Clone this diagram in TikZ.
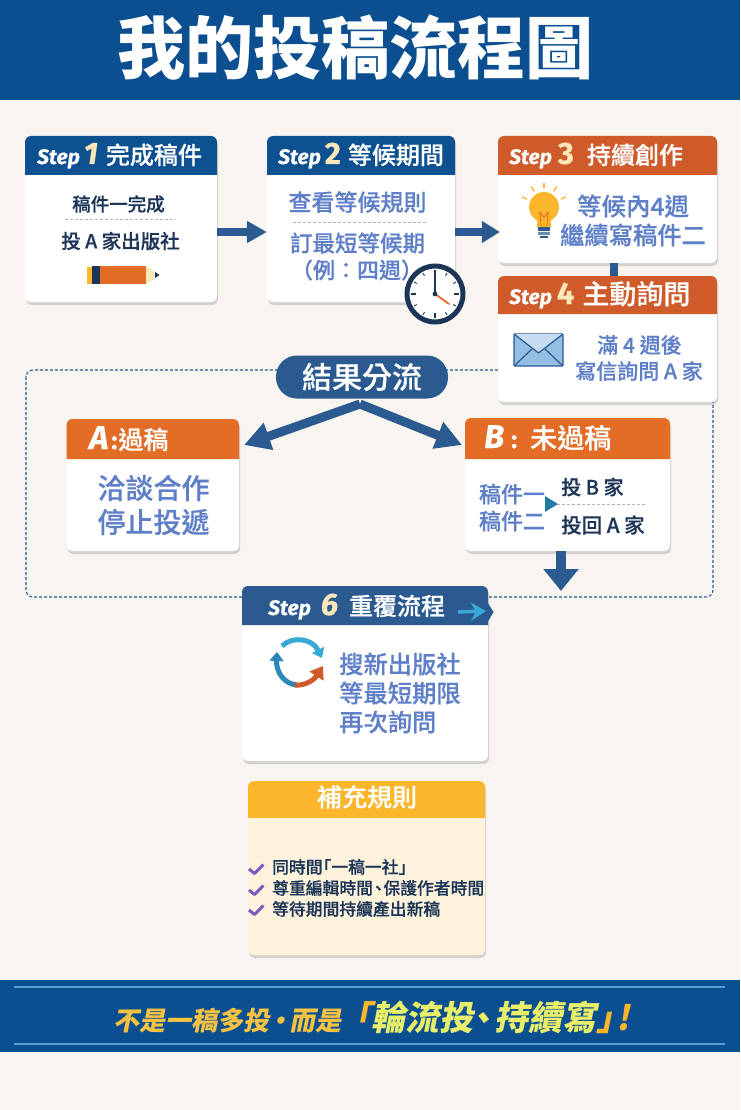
\documentclass[tikz,border=0pt]{standalone}
\usepackage{fontspec}
\usetikzlibrary{arrows.meta,fit,shadows}
\setmainfont{Noto Sans CJK TC}
\newfontfamily\cjkm{Noto Sans CJK TC Medium}[FakeBold=0.4]
\newfontfamily\cjksl{Noto Sans CJK TC}[BoldFeatures={FakeSlant=0.2}]
\newfontfamily\stepf{Fira Sans}[BoldItalicFeatures={FakeBold=0.5},BoldFeatures={FakeBold=0.5}]
\newcommand{\fs}[1]{\fontsize{#1}{#1}\selectfont}
\definecolor{pagebg}{HTML}{F8F4EF}
\definecolor{bannerblue}{HTML}{0B4F91}
\definecolor{headblue}{HTML}{0E5190}
\definecolor{headred}{HTML}{CF5A2A}
\definecolor{headorange}{HTML}{E36C26}
\definecolor{headgold}{HTML}{FBB62C}
\definecolor{softgold}{HTML}{FDF3DC}
\definecolor{bodyblue}{HTML}{5F80C9}
\definecolor{navy}{HTML}{1D3557}
\definecolor{flowblue}{HTML}{2A5A8F}
\definecolor{cream}{HTML}{FBE7B8}
\definecolor{linelight}{HTML}{5B9BD5}
\definecolor{gold}{HTML}{F5C242}
\definecolor{lime}{HTML}{E8EE6A}
\definecolor{skyarrow}{HTML}{38A8D4}
\definecolor{midarrow}{HTML}{2F86B8}
\definecolor{checkviolet}{HTML}{7E57C2}
\tikzset{
  cardbody/.style={inner sep=0pt,fill=white,rounded corners=6pt,
    drop shadow={shadow xshift=1pt,shadow yshift=-3pt,fill=black!35,opacity=.45}},
  headtext/.style={text=white,inner sep=0pt,anchor=base west},
  bodytext/.style={text=bodyblue,inner sep=0pt,align=center},
  darktext/.style={text=navy,inner sep=0pt,align=center},
  flow/.style={draw=flowblue,line width=8pt},
  sepline/.style={draw=black!30,line width=.6pt,densely dashed},
  frameline/.style={draw=flowblue,line width=1.1pt,dash pattern=on 3pt off 2pt,rounded corners=7pt},
}
% name, x1, y1, x2, y2, yh, colour
\newcommand{\cardbox}[7]{%
  \node[cardbody,fit={(#2,#3)(#4,#5)}] (#1) {};
  \fill[#7] (#2,#6) [rounded corners=6pt] -- (#2,#3) -- (#4,#3) [sharp corners] -- (#4,#6) -- cycle;
}
% name, x, y, number, gap1, gap2, size, text
\newcommand{\stephead}[8]{%
  \node[headtext] (#1) at (#2,#3) {{\stepf\bfseries\itshape\fs{21}Step}\hspace*{#5pt}{\stepf\bfseries\fs{31}\textcolor{cream}{#4}}\hspace*{#6pt}{\cjkm\fs{#7}#8}};
}
\begin{document}
\begin{tikzpicture}[x=1pt,y=-1pt]
\useasboundingbox (0,0) rectangle (740,1110);
\fill[pagebg] (0,0) rectangle (740,1110);
% title banner
\fill[bannerblue] (0,0) rectangle (740,100);
\node[text=white,inner sep=0pt,font=\bfseries\fs{68}] (title) at (355,48) {我的投稿流程圖};
% dashed frame
\draw[frameline] (26,370) rectangle (713,597);
% step 1
\cardbox{s1}{25}{136}{217}{302}{175}{headblue}
\stephead{s1h}{37}{164}{\itshape 1}{4}{8}{24}{完成稿件}
\node[darktext,font=\cjkm\fs{18.5}] (s1a) at (118.5,204) {稿件一完成};
\draw[sepline] (65,219) -- (176,219);
\node[darktext,font=\cjkm\fs{19.5}] (s1b) at (120.5,241) {投 A 家出版社};
% pencil
\fill[headgold] (87,266.5) rectangle (93,283.5);
\fill[navy] (92,266) rectangle (100,284);
\fill[headorange] (100,266) rectangle (146,284);
\fill[cream] (146,266) -- (155,272) -- (155,278) -- (146,284) -- cycle;
\fill[navy] (155,272) -- (159.5,275) -- (155,278) -- cycle;
% step 2
\cardbox{s2}{267}{136}{455}{302}{175}{headblue}
\stephead{s2h}{278}{164}{2}{4}{7}{24}{等候期間}
\node[bodytext,font=\cjkm\fs{23}] (s2a) at (357.5,202) {查看等候規則};
\draw[sepline] (293,222) -- (427,222);
\node[bodytext,font=\cjkm\fs{22.5}] (s2b) at (357.5,243) {訂最短等候期};
\node[bodytext,font=\cjkm\fs{22}] (s2c) at (357,270) {（例：四週）};
% step 3
\cardbox{s3}{498}{136}{717}{263}{175}{headred}
\stephead{s3h}{509}{164}{3}{6}{13}{24}{持續創作}
\node[bodytext,font=\cjkm\fs{24.5}] (s3a) at (633,206) {等候內4週};
\node[bodytext,font=\cjkm\fs{24.3}] (s3b) at (633,235) {繼續寫稿件二};
% bulb
\foreach \a in {-65,-32,0,32,65}
  \draw[headgold,line width=1.3pt] ({544+18.5*sin(\a)},{207-18.5*cos(\a)}) -- ({544+24*sin(\a)},{207-24*cos(\a)});
\fill[headgold] (544,207) circle (15);
\fill[headgold] (537,218) rectangle (551,227);
\draw[headorange,line width=.8pt] (541,226) -- (540,212) (547,226) -- (548,212) (539,212) -- (544,217) -- (549,212);
\fill[flowblue] (538,227) rectangle (550,230.5);
\fill[flowblue!70] (538,231.5) rectangle (550,234.5);
\fill[flowblue] (540,235.5) rectangle (548,238);
% step 4
\cardbox{s4}{498}{276}{717}{402}{314}{headred}
\stephead{s4h}{509}{304}{4}{5}{8}{27}{主動詢問}
\node[bodytext,font=\cjkm\fs{21}] (s4a) at (639.5,345) {滿 4 週後};
\node[bodytext,font=\cjkm\fs{21}] (s4b) at (639,371) {寫信詢問 A 家};
% envelope
\draw[draw=flowblue,fill=linelight!65,line width=1.2pt,rounded corners=1pt] (514,334) rectangle (563,366);
\draw[draw=flowblue,fill=linelight!35,line width=1.2pt,line join=round] (514,334) -- (538.5,353) -- (563,334);
\draw[draw=flowblue,line width=1.2pt] (514,366) -- (532,349) (563,366) -- (545,349);
% connectors of the top row
\draw[flow,-{Triangle[length=20pt,width=21pt]}] ([yshift=-13pt]s1.east) -- ([yshift=-13pt]s2.west);
\draw[flow,-{Triangle[length=18pt,width=21pt]}] ([yshift=-13pt]s2.east) -- ([yshift=-32.5pt,xshift=2pt]s3.west);
\draw[flow] ([xshift=6.5pt]s3.south) -- ([xshift=6.5pt]s4.north);
% clock
\fill[white] (435,294) circle (27);
\draw[navy,line width=5pt] (435,294) circle (28);
\foreach \a in {0,30,...,330}
  \draw[navy,line width=.9pt] ({435+21*sin(\a)},{294-21*cos(\a)}) -- ({435+24*sin(\a)},{294-24*cos(\a)});
\foreach \a in {0,90,180,270}
  \draw[navy,line width=1.8pt] ({435+19*sin(\a)},{294-19*cos(\a)}) -- ({435+24*sin(\a)},{294-24*cos(\a)});
\draw[navy,line width=1.8pt,line cap=round] (435,294) -- (435,272);
\draw[headorange,line width=1.8pt,line cap=round] (435,294) -- (449,304);
\fill[navy] (435,294) circle (2.4);
% result pill
\node[fill=flowblue,rounded corners=21pt,minimum width=172pt,minimum height=43pt,inner sep=0pt,text=white,font=\cjkm\fs{30}] (pill) at (362,377) {結果分流};
% A
\cardbox{a}{66.5}{419}{239}{551}{459}{headorange}
\node[headtext] (ah) at (89,449) {{\stepf\bfseries\itshape\fs{33}A}\hspace*{3pt}{\stepf\bfseries\fs{25}:}\hspace*{1pt}{\cjkm\fs{25}過稿}};
\node[bodytext,font=\cjkm\fs{28}] (a1) at (153.5,488) {洽談合作};
\node[bodytext,font=\cjkm\fs{28}] (a2) at (153.5,522) {停止投遞};
% B
\cardbox{b}{465}{418}{670}{551}{459}{headorange}
\node[headtext] (bh) at (484,448) {{\stepf\bfseries\itshape\fs{33}B}\hspace*{7pt}{\stepf\bfseries\fs{25}:}\hspace*{13pt}{\cjkm\fs{27}未過稿}};
\node[bodytext,font=\cjkm\fs{22}] (b1) at (512,494) {稿件一};
\node[bodytext,font=\cjkm\fs{22}] (b2) at (512,521) {稿件二};
\node[darktext,anchor=west,font=\cjkm\fs{20}] (b3) at (561,487) {投 B 家};
\node[darktext,anchor=west,font=\cjkm\fs{20.5}] (b4) at (561,525) {投回 A 家};
\draw[sepline] (557,504) -- (645,504);
\fill[flowblue!80!cyan] (545,496) -- (558,504) -- (545,512) -- cycle;
% step 6
\cardbox{s6}{242}{586}{488}{761}{625}{flowblue}
\fill[flowblue] (486,600) -- (493.5,612) -- (486,625) -- cycle;
\stephead{s6h}{268}{615}{\itshape 6}{10}{11}{24}{重覆流程}
\draw[draw=skyarrow,line width=3.5pt,-{Stealth[length=15pt,width=18pt]}] (458,612) -- (486,611);
\node[bodytext,anchor=west,font=\cjkm\fs{24.3}] (s6a) at (339,664) {搜新出版社};
\node[bodytext,anchor=west,font=\cjkm\fs{24.3}] (s6b) at (339,693) {等最短期限};
\node[bodytext,anchor=west,font=\cjkm\fs{24.3}] (s6c) at (339,722) {再次詢問};
% connectors from the pill and from B
\coordinate (apex) at (360,404);
\coordinate (atip) at (244,445);
\coordinate (btip) at (462,445);
\coordinate (downtip) at (561,591);
\draw[flow,line width=9pt,-{Triangle[length=26pt,width=27pt]}] (apex) -- (atip);
\draw[flow,line width=9pt,-{Triangle[length=26pt,width=27pt]}] (apex) -- (btip);
\draw[flow,line width=10pt,-{Triangle[length=22pt,width=34pt]}] (b.south -| downtip) -- (downtip);
% recycle icon
\draw[draw=skyarrow,line width=5pt,-{Triangle[length=9pt,width=13pt]}] (282,646) .. controls (292,636) and (312,638) .. (322,658);
\draw[draw=midarrow,line width=5pt,-{Triangle[length=9pt,width=14pt]}] (297,685) .. controls (284,684) and (276,672) .. (277,652);
\draw[draw=headred,line width=5pt,-{Triangle[length=12pt,width=16pt]}] (295,685) .. controls (305,686) and (314,680) .. (323,666);
% rules
\cardbox{r}{248}{781}{485}{955}{818}{headgold}
\fill[softgold] (248,818) -- (485,818) [rounded corners=6pt] -- (485,955) -- (248,955) [sharp corners] -- cycle;
\node[text=white,inner sep=0pt,font=\cjkm\fs{25}] (rh) at (367,797) {補充規則};
\foreach \n/\y in {1/869,2/890,3/910}
  \draw[draw=checkviolet,line width=3pt,line join=round] (249,\y) -- (254.5,\y+4.5) -- (263.5,\y-4.5);
\node[darktext,anchor=west,font=\cjkm\fs{16.8}] (r1) at (272,867) {同時間\hspace*{-8pt}「一稿一社」};
\node[darktext,anchor=west,font=\cjkm\fs{16.8}] (r2) at (272,888) {尊重編輯時間\hspace*{-3pt}、\hspace*{-3.4pt}保護作者時間};
\node[darktext,anchor=west,font=\cjkm\fs{16.8}] (r3) at (272,909) {等待期間持續產出新稿};
% bottom banner
\fill[bannerblue] (0,980) rectangle (740,1052);
\draw[linelight,line width=1.3pt] (14,987) -- (725,987);
\draw[linelight,line width=1.3pt] (14,1044) -- (725,1044);
\node[text=gold,inner sep=0pt,anchor=west] (foot) at (113,1017) {{\cjksl\bfseries\fs{26}不是一稿多投\hspace*{-3pt}·\hspace*{-3pt}而是}\hspace*{-4pt}{\cjksl\bfseries\fs{34}\textcolor{headgold}{「}\textcolor{lime}{輪流投\hspace*{-9pt}、\hspace*{-4pt}持續寫}\textcolor{headgold}{」}\hspace*{-14pt}\textcolor{headgold}{!}}};
\end{tikzpicture}
\end{document}
